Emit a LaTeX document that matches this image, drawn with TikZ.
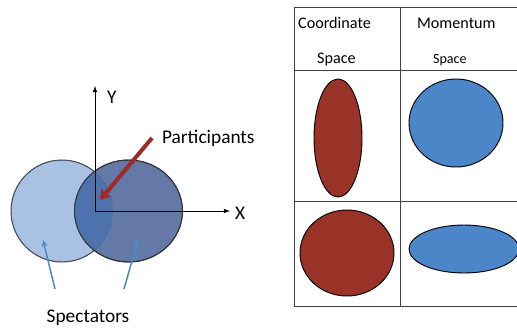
\documentclass[tikz,border=0pt]{standalone}
\usepackage{fontspec}
\setmainfont{Carlito}
\usetikzlibrary{arrows.meta}
\definecolor{lightnuc}{HTML}{A9C2E4}
\definecolor{darknuc}{HTML}{6479A8}
\definecolor{overlapnuc}{HTML}{4D72AD}
\definecolor{brick}{HTML}{993328}
\definecolor{sky}{HTML}{4A86C8}
\definecolor{arrowred}{HTML}{9E2A2A}
\definecolor{arrowblue}{HTML}{4A8AD0}
\def\scl{0.03}

\begin{document}
\begin{tikzpicture}[
  x=\scl cm, y=-\scl cm,
  nucleus/.style={draw=black!80,thick},
  blob/.style={draw=black,thick},
  axes/.style={thick,-latex},
  grid/.style={draw=black!75,thick},
  label/.style={font=\fontsize{16.5}{18}\selectfont},
  head/.style={font=\fontsize{13.8}{15}\selectfont,anchor=west}]
  \useasboundingbox (0,0) rectangle (517,330);

% Left part: two overlapping nuclei
  \fill[lightnuc,nucleus] (62,211) ellipse (51 and 51);
  \fill[darknuc,nucleus] (128.5,211) ellipse (54 and 51);
  \begin{scope}
    \clip (62,211) ellipse (51 and 51);
    \fill[overlapnuc] (128.5,211) ellipse (54 and 51);
    \draw[darknuc!80!black,thin] (62,211) ellipse (51 and 51);
  \end{scope}
  \draw[black!80,thick] (128.5,211) ellipse (54 and 51);

  % axes
  \coordinate (O) at (95,211);
  \coordinate (ytip) at (95,86);
  \coordinate (xtip) at (230,211);
  \draw[axes] (O) -- (ytip);
  \draw[axes] (O) -- (xtip);
  \node[label,anchor=west] (ylab) at (103,97) {Y};
  \node[label,anchor=west] (xlab) at (231,213) {X};

  % participants
  \node[label,anchor=west] (part) at (158,138) {Participants};
  \coordinate (ptail) at (152,138);
  \coordinate (phead) at (100,200);
  \draw[arrowred,line width=3.4pt,-{Triangle[length=8pt,width=10pt]}] (ptail) -- (phead);

  % spectators
  \node[label] (spec) at (88,318) {Spectators};
  \coordinate (s1) at (55,289);
  \coordinate (s2) at (124,289);
  \draw[arrowblue,line width=1.3pt,-{Stealth[length=6pt,width=5pt]}] (s1) -- (43,240);
  \draw[arrowblue,line width=1.3pt,-{Stealth[length=6pt,width=5pt]}] (s2) -- (138,240);

% Right part: table of shapes
  \draw[grid] (517,7) -- (294,7) -- (294,306) -- (517,306);
  \draw[grid] (294,70) -- (517,70);
  \draw[grid] (294,201) -- (517,201);
  \draw[grid] (400.5,7) -- (400.5,306);
  \node[head] (coord) at (294,23) {Coordinate};
  \node[head] (cspace) at (313,60) {Space};
  \node[head] (mom) at (413,23) {Momentum};
  \node[head,font=\fontsize{12}{13}\selectfont] (mspace) at (429,60) {Space};

  \fill[brick,blob] (338,138) ellipse (24 and 59);
  \fill[sky,blob] (456,123) ellipse (47 and 44);
  \fill[brick,blob] (347,253) ellipse (47 and 43);
  \fill[sky,blob] (464,249) ellipse (55 and 24);
\end{tikzpicture}
\end{document}
